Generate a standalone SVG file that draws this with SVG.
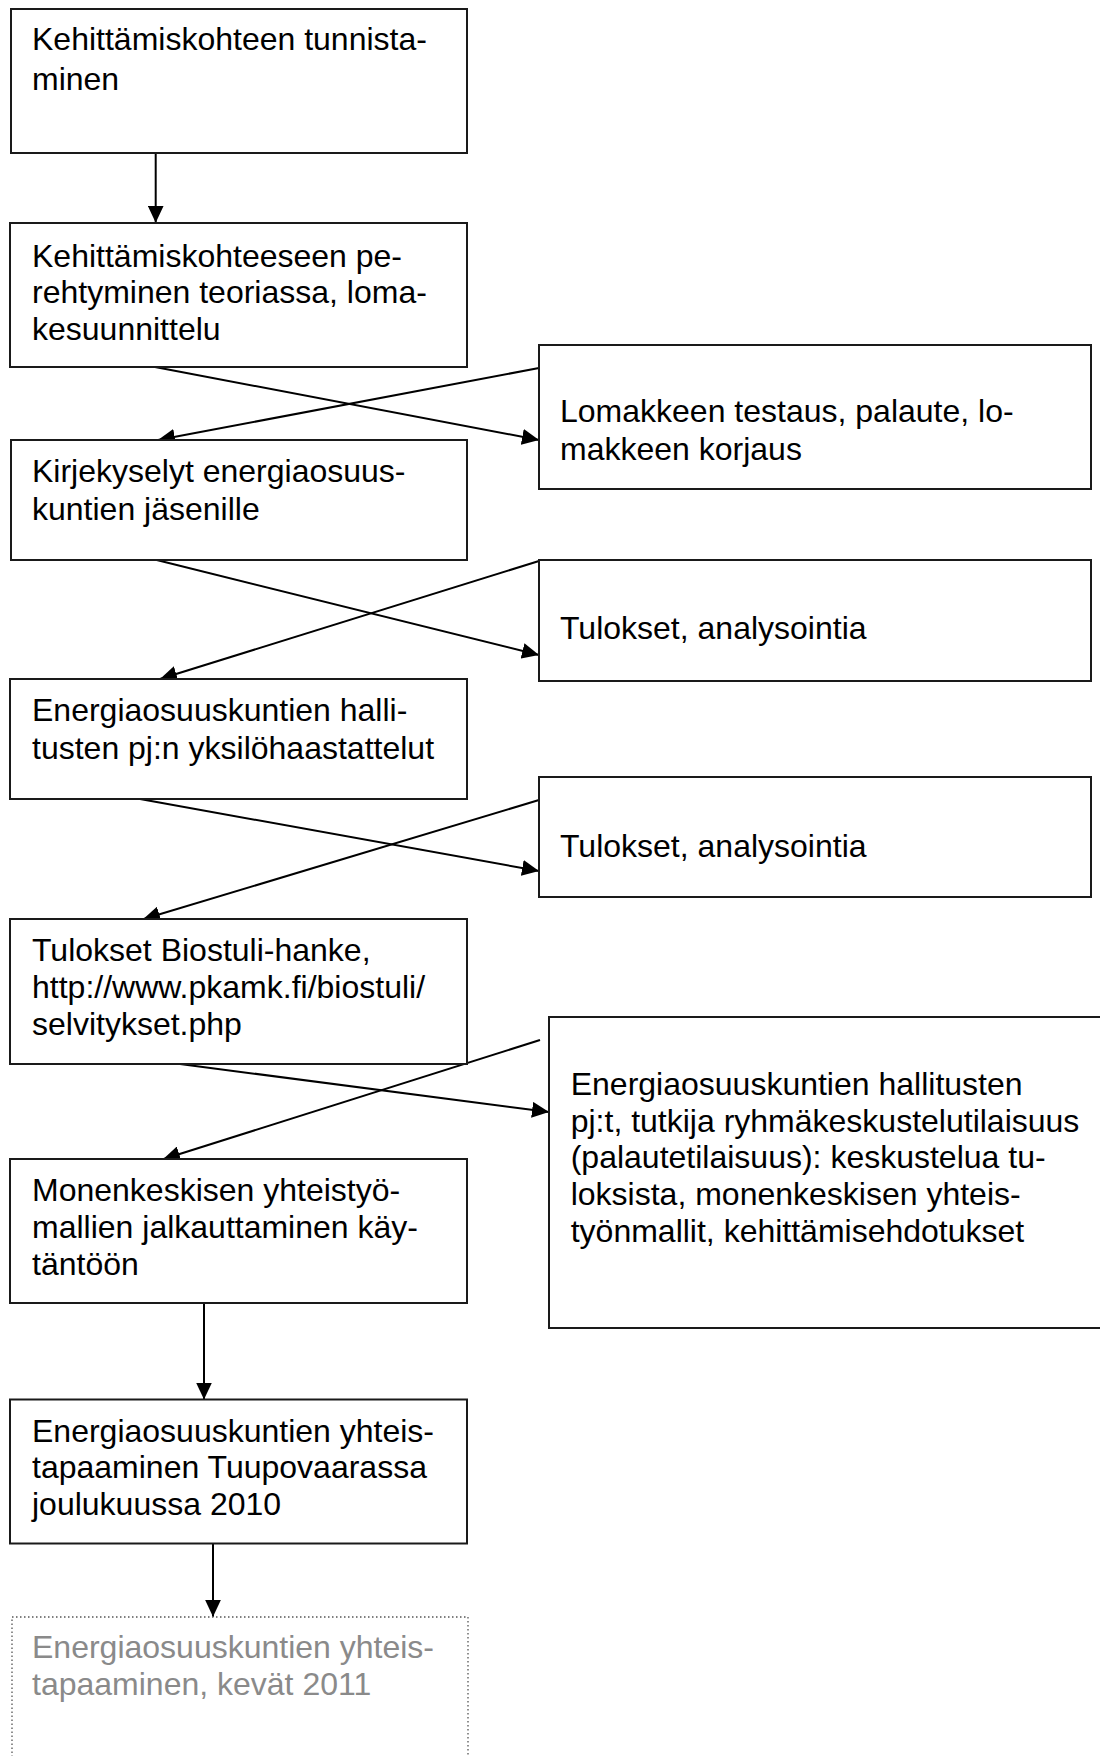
<svg xmlns="http://www.w3.org/2000/svg" width="1100" height="1756" viewBox="0 0 1100 1756">
<style>
.box{fill:#fff;stroke:#1a1a1a;stroke-width:2}
.dbox{fill:#fff;stroke:#555;stroke-width:1.3;stroke-dasharray:1.5 2.5}
.t{font-family:"Liberation Sans",Arial,sans-serif;font-size:32px;fill:#000}
.g{fill:#8a8a8a}
.c{stroke:#000;stroke-width:2;fill:none;marker-end:url(#ah)}
</style>
<defs>
<marker id="ah" markerUnits="userSpaceOnUse" markerWidth="17" markerHeight="16" viewBox="0 0 17 16" refX="17" refY="8" orient="auto">
<path d="M0,0 L17,8 L0,16 z" fill="#000"/>
</marker>
</defs>
<rect width="1100" height="1756" fill="#fff"/>
<g id="connectors">
<line class="c" x1="155.7" y1="153" x2="155.7" y2="222.7"/>
<line class="c" x1="155" y1="367" x2="539" y2="440"/>
<line class="c" x1="539" y1="368" x2="158" y2="440"/>
<line class="c" x1="156.7" y1="560" x2="539" y2="655"/>
<line class="c" x1="539" y1="561" x2="160" y2="679"/>
<line class="c" x1="140" y1="799" x2="539" y2="871"/>
<line class="c" x1="539" y1="800" x2="143" y2="919.3"/>
<line class="c" x1="180" y1="1064" x2="549" y2="1112"/>
<line class="c" x1="540" y1="1040" x2="163" y2="1159.3"/>
<line class="c" x1="204" y1="1303.3" x2="204" y2="1399.5"/>
<line class="c" x1="213" y1="1543.3" x2="213" y2="1616.7"/>
</g>
<g id="n1">
<rect class="box" x="11" y="9" width="456" height="144"/>
<text class="t"><tspan x="32" y="50">Kehittämiskohteen tunnista-</tspan><tspan x="32" y="89.5">minen</tspan></text>
</g>
<g id="n2">
<rect class="box" x="10" y="223" width="457" height="144"/>
<text class="t"><tspan x="32" y="266.5">Kehittämiskohteeseen pe-</tspan><tspan x="32" y="303">rehtyminen teoriassa, loma-</tspan><tspan x="32" y="339.5">kesuunnittelu</tspan></text>
</g>
<g id="n3">
<rect class="box" x="539" y="345" width="552" height="144"/>
<text class="t"><tspan x="560" y="422">Lomakkeen testaus, palaute, lo-</tspan><tspan x="560" y="459.5">makkeen korjaus</tspan></text>
</g>
<g id="n4">
<rect class="box" x="11" y="440" width="456" height="120"/>
<text class="t"><tspan x="32" y="481.5">Kirjekyselyt energiaosuus-</tspan><tspan x="32" y="519.5">kuntien jäsenille</tspan></text>
</g>
<g id="n5">
<rect class="box" x="539" y="560" width="552" height="121"/>
<text class="t"><tspan x="560" y="638.5">Tulokset, analysointia</tspan></text>
</g>
<g id="n6">
<rect class="box" x="10" y="679" width="457" height="120"/>
<text class="t"><tspan x="32" y="720.5">Energiaosuuskuntien halli-</tspan><tspan x="32" y="758.5">tusten pj:n yksilöhaastattelut</tspan></text>
</g>
<g id="n7">
<rect class="box" x="539" y="777" width="552" height="120"/>
<text class="t"><tspan x="560" y="856.5">Tulokset, analysointia</tspan></text>
</g>
<g id="n8">
<rect class="box" x="10" y="919" width="457" height="145"/>
<text class="t"><tspan x="32" y="960.5">Tulokset Biostuli-hanke,</tspan><tspan x="32" y="997.5">http://www.pkamk.fi/biostuli/</tspan><tspan x="32" y="1034.5">selvitykset.php</tspan></text>
</g>
<g id="n9">
<rect class="box" x="549" y="1017" width="560" height="311"/>
<text class="t"><tspan x="570.7" y="1094.5">Energiaosuuskuntien hallitusten</tspan><tspan x="570.7" y="1131.5">pj:t, tutkija ryhmäkeskustelutilaisuus</tspan><tspan x="570.7" y="1168">(palautetilaisuus): keskustelua tu-</tspan><tspan x="570.7" y="1205">loksista, monenkeskisen yhteis-</tspan><tspan x="570.7" y="1241.5">työnmallit, kehittämisehdotukset</tspan></text>
</g>
<g id="n10">
<rect class="box" x="10" y="1159" width="457" height="144"/>
<text class="t"><tspan x="32" y="1200.5">Monenkeskisen yhteistyö-</tspan><tspan x="32" y="1238">mallien jalkauttaminen käy-</tspan><tspan x="32" y="1274.5">täntöön</tspan></text>
</g>
<g id="n11">
<rect class="box" x="10" y="1399.5" width="457" height="144"/>
<text class="t"><tspan x="32" y="1441.5">Energiaosuuskuntien yhteis-</tspan><tspan x="32" y="1477.5">tapaaminen Tuupovaarassa</tspan><tspan x="32" y="1514.5">joulukuussa 2010</tspan></text>
</g>
<g id="n12">
<rect class="dbox" x="12" y="1617" width="456" height="160"/>
<text class="t g"><tspan x="32" y="1657.5">Energiaosuuskuntien yhteis-</tspan><tspan x="32" y="1694.5">tapaaminen, kevät 2011</tspan></text>
</g>
</svg>
